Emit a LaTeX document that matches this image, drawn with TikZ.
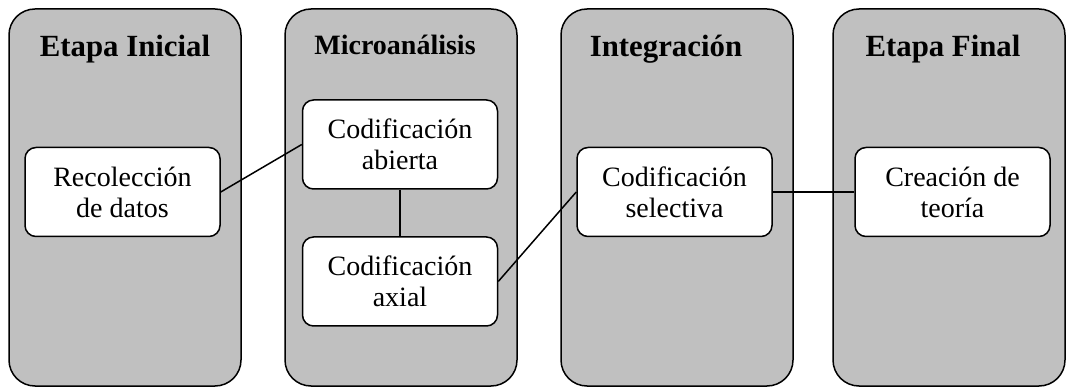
\documentclass[tikz,border=0pt]{standalone}
\usepackage{fontspec}
\setmainfont{Liberation Serif}
\usepackage{xcolor}
\usepackage{tikz}
\usetikzlibrary{positioning}
\definecolor{stagegray}{RGB}{192, 192, 192}

\begin{document}
\begin{tikzpicture}[
    x=1pt, y=-1pt,
    stage/.style={rectangle, rounded corners=26pt, draw=black, line width=1.5pt, fill=stagegray, minimum width=232pt, minimum height=377pt, inner sep=0pt},
    stagetitle/.style={anchor=base, font=\fontsize{30.8}{34}\selectfont\bfseries, inner sep=0pt},
    step box/.style={rectangle, rounded corners=11pt, draw=black, line width=1.5pt, fill=white, minimum width=195pt, minimum height=89pt, inner sep=0pt, align=center, font=\fontsize{28}{31}\selectfont},
    link/.style={line width=1.5pt, black}
]
\useasboundingbox (0,0) rectangle (1066,387);

% Stages
\node[stage] (inicial) at (125,197.5) {};
\node[stage] (micro) at (401,197.5) {};
\node[stage] (integ) at (677,197.5) {};
\node[stage] (final) at (949,197.5) {};

% Stage titles
\node[stagetitle] (tinicial) at (125,57) {Etapa Inicial};
\node[stagetitle, font=\fontsize{28}{32}\selectfont\bfseries] (tmicro) at (395,55) {Microanálisis};
\node[stagetitle] (tinteg) at (666,57) {Integración};
\node[stagetitle] (tfinal) at (943,57) {Etapa Final};

% Steps
\node[step box] (datos) at (122.5,192) {Recolección\\de datos};
\node[step box] (abierta) at (400,144.5) {Codificación\\abierta};
\node[step box] (axial) at (400,281.5) {Codificación\\axial};
\node[step box] (selectiva) at (674.5,192) {Codificación\\selectiva};
\node[step box] (teoria) at (952.5,192) {Creación de\\teoría};

% Links
\draw[link] (datos.east) -- (abierta.west);
\draw[link] (abierta.south) -- (axial.north);
\draw[link] (axial.east) -- (selectiva.west);
\draw[link] (selectiva.east) -- (teoria.west);
\end{tikzpicture}
\end{document}
